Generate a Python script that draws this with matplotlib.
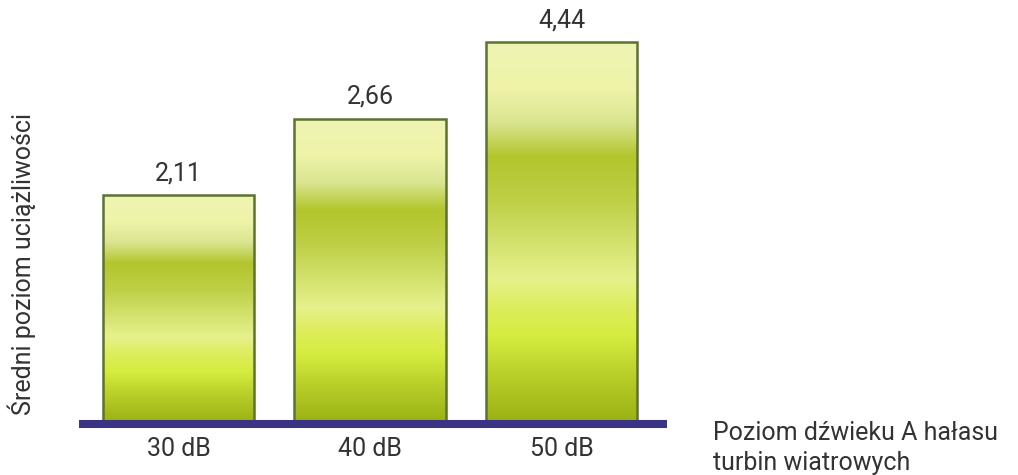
import numpy as np
import matplotlib
matplotlib.use("Agg")
import matplotlib.pyplot as plt
from matplotlib.colors import LinearSegmentedColormap

# Data: bar heights follow the noise level, labels show mean annoyance
categories = ["30 dB", "40 dB", "50 dB"]
noise_levels = [30, 40, 50]
annoyance = [2.11, 2.66, 4.44]

plt.rcParams['font.family'] = ['Roboto', 'DejaVu Sans']
text_color = '#333333'

# gradient used inside every bar (top -> bottom)
grad_cmap = LinearSegmentedColormap.from_list("bar_grad", [
    (0.00, '#eff4b4'),
    (0.12, '#eef3a8'),
    (0.21, '#d9e590'),
    (0.30, '#b2c52c'),
    (0.42, '#bfd048'),
    (0.52, '#d2e16c'),
    (0.62, '#e6f18c'),
    (0.70, '#dced5a'),
    (0.77, '#d5ec40'),
    (0.87, '#b9d02a'),
    (1.00, '#98b012'),
])

fig = plt.figure(figsize=(10.18, 4.75), dpi=100)
ax = fig.add_axes([79 / 1018, 51 / 475, 588 / 1018, 420 / 475])

x = np.arange(len(categories))
width = 0.79
bars = ax.bar(x, noise_levels, width=width, facecolor='none',
              edgecolor='#5b7330', linewidth=1.8, zorder=3)

gradient = np.linspace(0, 1, 256).reshape(-1, 1)
for bar in bars:
    x0, y0 = bar.get_x(), bar.get_y()
    w, h = bar.get_width(), bar.get_height()
    im = ax.imshow(gradient, cmap=grad_cmap, aspect='auto',
                   extent=[x0, x0 + w, y0, y0 + h], origin='upper', zorder=2)
    im.set_clip_path(bar)

for bar, val in zip(bars, annoyance):
    ax.annotate(f"{val:.2f}".replace('.', ','),
                xy=(bar.get_x() + bar.get_width() / 2, bar.get_height()),
                xytext=(0, 7), textcoords='offset points',
                ha='center', va='bottom', fontsize=18, color=text_color)

ax.set_xlim(-0.52, 2.55)
ax.set_ylim(0, 55)
ax.set_xticks(x)
ax.set_xticklabels(categories, fontsize=18, color=text_color)
ax.set_yticks([])
ax.tick_params(axis='x', length=0, pad=9)
for side in ['top', 'right', 'left']:
    ax.spines[side].set_visible(False)
ax.spines['bottom'].set_color('#3b3484')
ax.spines['bottom'].set_linewidth(5.8)
ax.spines['bottom'].set_capstyle('butt')
ax.spines['bottom'].set_zorder(4)

fig.text(22 / 1018, (475 - 264) / 475, "Średni poziom uciążliwości",
         rotation=90, ha='center', va='center', fontsize=18, color=text_color)
fig.text(713 / 1018, (475 - 448) / 475, "Poziom dźwieku A hałasu\nturbin wiatrowych",
         ha='left', va='center', fontsize=18, color=text_color, linespacing=1.3)

plt.savefig("out.png", dpi=100)
